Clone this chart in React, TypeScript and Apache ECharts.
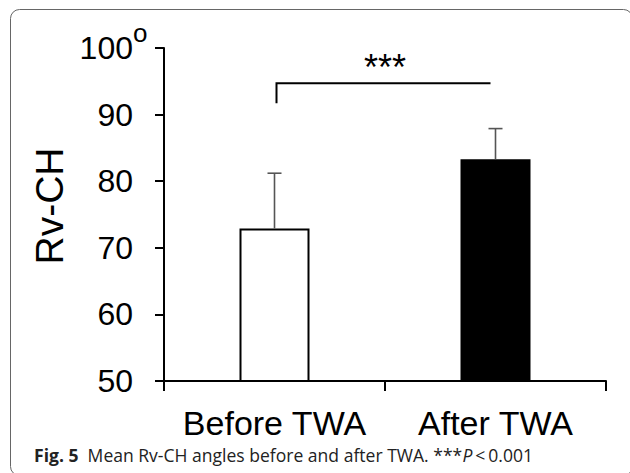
import React, { useEffect, useRef } from "react";
import * as echarts from "echarts";

const categories = ["Before TWA", "After TWA"];
const means = [72.9, 83.3];
const errorTops = [81.2, 87.9];
const yTicks = [50, 60, 70, 80, 90, 100];
const bracketLevel = 94.7;
const bracketLegBottom = 91.7;
const starsLevel = 97.0;
const starsText = "***";
const caption = "{b|Fig. 5}  Mean Rv-CH angles before and after TWA. ***{i|P}\u2009<\u20090.001";

export default function App() {
  const ref = useRef<HTMLDivElement>(null);
  useEffect(() => {
    if (!ref.current) return;
    const chart = echarts.init(ref.current, undefined, { renderer: "svg" });
    const font = "'Liberation Sans', Arial, sans-serif";
    const capFont = "'Open Sans', sans-serif";
    chart.setOption({
      animation: false,
      backgroundColor: "#fff",
      grid: { left: 164, right: 24, top: 48, bottom: 92, containLabel: false },
      xAxis: {
        type: "category",
        data: categories,
        axisLine: { show: true, lineStyle: { color: "#000", width: 2 } },
        axisTick: { show: true, length: 10, alignWithLabel: false, lineStyle: { color: "#000", width: 2 } },
        axisLabel: { interval: 0, fontSize: 34, color: "#000", fontFamily: font, margin: 25 },
        splitLine: { show: false },
      },
      yAxis: {
        type: "value",
        min: yTicks[0],
        max: yTicks[yTicks.length - 1],
        interval: 10,
        axisLine: { show: true, lineStyle: { color: "#000", width: 2 } },
        axisTick: { show: true, length: 9, lineStyle: { color: "#000", width: 2 } },
        axisLabel: { fontSize: 32, color: "#000", fontFamily: font, margin: 31 },
        splitLine: { show: false },
      },
      graphic: [
        {
          type: "rect",
          shape: { x: 10.5, y: 9.5, width: 622, height: 466, r: 9 },
          style: { fill: "none", stroke: "#666", lineWidth: 1 },
          silent: true,
        },
        {
          type: "text",
          x: 133,
          y: 33,
          style: { text: "o", fontSize: 26, fontFamily: font, fill: "#000", verticalAlign: "middle" },
        },
        {
          type: "text",
          x: 49,
          y: 206,
          rotation: Math.PI / 2,
          style: {
            text: "Rv-CH",
            fontSize: 39,
            fontFamily: font,
            fill: "#000",
            align: "center",
            verticalAlign: "middle",
          },
        },
        {
          type: "text",
          x: 34,
          y: 455,
          scaleX: 0.975,
          style: {
            text: caption,
            fontSize: 18,
            fontFamily: capFont,
            fill: "#222",
            verticalAlign: "middle",
            rich: {
              b: { fontWeight: "bold", fontSize: 18, fontFamily: capFont, fill: "#222" },
              i: { fontStyle: "italic", fontSize: 18, fontFamily: capFont, fill: "#222" },
            },
          },
        },
      ],
      series: [
        {
          type: "bar",
          barWidth: 70,
          data: means.map((v, i) => ({
            value: v,
            itemStyle:
              i === 0
                ? { color: "#fff", borderColor: "#000", borderWidth: 2 }
                : { color: "#000", borderColor: "#000", borderWidth: 2 },
          })),
          z: 2,
        },
        {
          type: "custom",
          z: 3,
          data: means.map((m, i) => [i, m, errorTops[i]]),
          renderItem: (params: any, api: any) => {
            const base = api.coord([api.value(0), api.value(1)]);
            const top = api.coord([api.value(0), api.value(2)]);
            const style = { stroke: "#555", lineWidth: 1.6 };
            return {
              type: "group",
              children: [
                { type: "line", shape: { x1: base[0], y1: base[1], x2: top[0], y2: top[1] }, style },
                { type: "line", shape: { x1: top[0] - 7, y1: top[1], x2: top[0] + 7, y2: top[1] }, style },
              ],
            };
          },
        },
        {
          type: "custom",
          z: 3,
          data: [[0, 1, bracketLevel, bracketLegBottom, starsLevel]],
          renderItem: (params: any, api: any) => {
            const a = api.coord([api.value(0), api.value(2)]);
            const b = api.coord([api.value(1), api.value(2)]);
            const leg = api.coord([api.value(0), api.value(3)]);
            const s = api.coord([api.value(0), api.value(4)]);
            const sx = (a[0] + b[0]) / 2;
            const style = { stroke: "#000", lineWidth: 2, fill: "none" };
            return {
              type: "group",
              children: [
                {
                  type: "polyline",
                  shape: { points: [[leg[0] + 2, leg[1]], [a[0] + 2, a[1]], [b[0] - 5, b[1]]] },
                  style,
                },
                {
                  type: "text",
                  x: sx,
                  y: s[1],
                  style: {
                    text: starsText,
                    fontSize: 36,
                    fontFamily: font,
                    fill: "#000",
                    align: "center",
                    verticalAlign: "middle",
                  },
                },
              ],
            };
          },
        },
      ],
    });
    return () => chart.dispose();
  }, []);
  return (
    <div
      ref={ref}
      style={{ position: "fixed", left: 0, top: 0, width: 630, height: 473 }}
    />
  );
}
